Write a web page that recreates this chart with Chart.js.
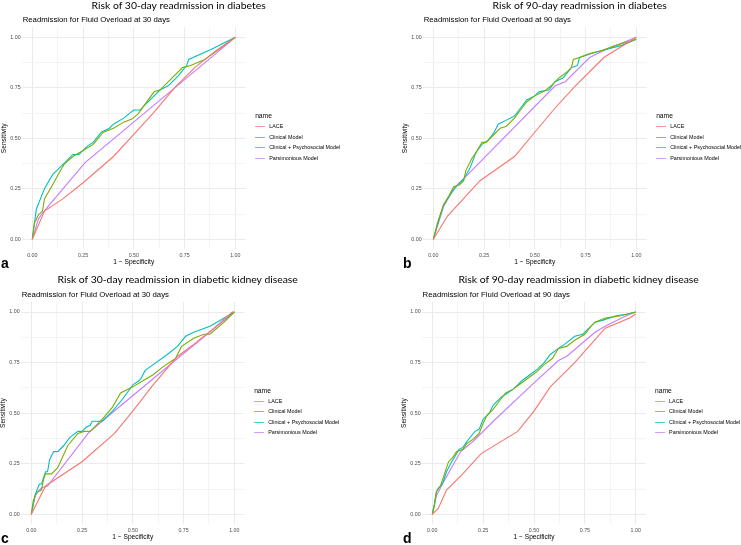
<!DOCTYPE html>
<html lang="en">
<head>
<meta charset="UTF-8">
<title>ROC curves for fluid overload readmission</title>
<script src="https://cdn.jsdelivr.net/npm/chart.js"></script>
<style>
  body { margin: 0; width: 741px; height: 545px; background: #fff; position: relative; overflow: hidden; font-family: "Liberation Sans", Arial, sans-serif; }
  .panel { position: absolute; }
  .panel canvas { position: absolute; left: 0; top: 0; }
  .title { position: absolute; font-family: Lato, "Open Sans", sans-serif; font-size: 10.4px; white-space: nowrap; transform: translate(-50%, -50%); color: #000; }
  .subtitle { position: absolute; font-size: 7.8px; white-space: nowrap; transform: translateY(-50%); color: #000; }
  .letter { position: absolute; font-size: 14px; font-weight: bold; line-height: 1; }
  .legend { position: absolute; font-size: 5.4px; color: #000; }
  .legend .head { font-size: 6.7px; height: 11px; line-height: 11px; }
  .legend .row { height: 10.5px; line-height: 10.5px; white-space: nowrap; }
  .legend .key { display: inline-block; width: 10px; height: 1px; vertical-align: middle; margin-right: 4px; opacity: 0.75; }
</style>
</head>
<body>
<script>
// series names and colours (ggplot default hue)
const seriesNames = ['LACE', 'Clinical Model', 'Clinical + Psychosocial Model', 'Parsimonious Model'];
const seriesColors = ['#F8766D', '#7CAE00', '#00BFC4', '#C77CFF'];
const tickValues = [0, 0.125, 0.25, 0.375, 0.5, 0.625, 0.75, 0.875, 1];

// panel a: 30-day readmission in diabetes  [1 - specificity, sensitivity]
const laceA = [[0,0],[0.06,0.14],[0.15,0.2],[0.25,0.28],[0.4,0.41],[0.5,0.52],[0.6,0.63],[0.7,0.75],[0.8,0.85],[0.9,0.93],[1,1]];
const clinA = [[0,0],[0.01,0.08],[0.03,0.12],[0.05,0.14],[0.06,0.2],[0.1,0.27],[0.15,0.36],[0.16,0.375],[0.2,0.41],[0.25,0.44],[0.3,0.47],[0.35,0.53],[0.4,0.55],[0.45,0.58],[0.49,0.595],[0.52,0.62],[0.6,0.73],[0.63,0.74],[0.68,0.79],[0.74,0.85],[0.78,0.86],[0.85,0.89],[1,1]];
const psyA = [[0,0],[0.02,0.15],[0.04,0.2],[0.06,0.25],[0.1,0.32],[0.12,0.34],[0.14,0.36],[0.16,0.38],[0.2,0.42],[0.23,0.42],[0.27,0.46],[0.3,0.48],[0.34,0.53],[0.38,0.55],[0.4,0.57],[0.45,0.6],[0.5,0.64],[0.53,0.64],[0.58,0.69],[0.63,0.74],[0.67,0.76],[0.72,0.81],[0.76,0.86],[0.77,0.89],[0.88,0.94],[1,1]];
const parsA = [[0,0],[0.03,0.1],[0.05,0.13],[0.26,0.38],[1,1]];

// panel b: 90-day readmission in diabetes
const laceB = [[0,0],[0.07,0.115],[0.23,0.29],[0.4,0.41],[0.5,0.53],[0.6,0.65],[0.7,0.76],[0.84,0.9],[1,1]];
const clinB = [[0,0],[0.02,0.08],[0.05,0.17],[0.08,0.22],[0.1,0.26],[0.13,0.27],[0.15,0.29],[0.16,0.34],[0.19,0.4],[0.21,0.43],[0.24,0.48],[0.26,0.48],[0.3,0.52],[0.33,0.55],[0.36,0.56],[0.4,0.6],[0.43,0.64],[0.46,0.68],[0.5,0.71],[0.55,0.735],[0.58,0.76],[0.62,0.8],[0.66,0.83],[0.68,0.85],[0.69,0.89],[0.72,0.9],[0.77,0.92],[0.83,0.935],[0.9,0.96],[1,0.99]];
const psyB = [[0,0],[0.02,0.07],[0.05,0.17],[0.09,0.23],[0.12,0.27],[0.15,0.3],[0.18,0.35],[0.21,0.43],[0.24,0.47],[0.27,0.49],[0.3,0.53],[0.32,0.57],[0.36,0.59],[0.4,0.61],[0.43,0.65],[0.46,0.69],[0.5,0.71],[0.52,0.73],[0.57,0.74],[0.6,0.78],[0.64,0.8],[0.68,0.85],[0.71,0.86],[0.72,0.9],[0.78,0.92],[0.85,0.94],[0.93,0.96],[1,0.99]];
const parsB = [[0,0],[0.05,0.16],[0.1,0.25],[0.15,0.3],[0.6,0.76],[0.65,0.78],[0.77,0.9],[0.85,0.94],[1,1]];

// panel c: 30-day readmission in diabetic kidney disease
const laceC = [[0,0],[0.07,0.14],[0.25,0.26],[0.41,0.4],[0.5,0.51],[0.6,0.64],[0.72,0.78],[0.8,0.84],[0.9,0.92],[0.99,1],[1,1]];
const clinC = [[0,0],[0.01,0.07],[0.03,0.11],[0.05,0.12],[0.06,0.17],[0.07,0.2],[0.1,0.2],[0.13,0.23],[0.18,0.34],[0.23,0.4],[0.26,0.41],[0.29,0.41],[0.35,0.47],[0.4,0.53],[0.44,0.6],[0.5,0.63],[0.55,0.66],[0.6,0.69],[0.65,0.73],[0.71,0.77],[0.74,0.83],[0.8,0.87],[0.85,0.89],[0.88,0.89],[0.95,0.95],[1,1]];
const psyC = [[0,0],[0.02,0.1],[0.04,0.15],[0.05,0.15],[0.07,0.21],[0.08,0.21],[0.09,0.27],[0.11,0.31],[0.13,0.31],[0.16,0.34],[0.19,0.38],[0.23,0.41],[0.25,0.41],[0.27,0.43],[0.29,0.44],[0.3,0.46],[0.35,0.46],[0.4,0.51],[0.45,0.57],[0.5,0.64],[0.53,0.66],[0.54,0.67],[0.56,0.71],[0.6,0.74],[0.67,0.79],[0.72,0.83],[0.76,0.88],[0.8,0.9],[0.88,0.93],[0.95,0.97],[1,1]];
const parsC = [[0,0],[0.02,0.1],[0.05,0.13],[0.08,0.14],[0.28,0.4],[0.36,0.47],[0.72,0.77],[1,1]];

// panel d: 90-day readmission in diabetic kidney disease
const laceD = [[0,0],[0.03,0.03],[0.07,0.12],[0.15,0.2],[0.24,0.3],[0.42,0.41],[0.5,0.51],[0.58,0.63],[0.7,0.75],[0.85,0.92],[0.97,0.97],[1,0.99]];
const clinD = [[0,0],[0.01,0.05],[0.02,0.11],[0.04,0.14],[0.06,0.2],[0.08,0.26],[0.1,0.28],[0.12,0.31],[0.15,0.32],[0.17,0.35],[0.2,0.37],[0.23,0.4],[0.25,0.45],[0.27,0.49],[0.3,0.52],[0.33,0.56],[0.36,0.6],[0.4,0.62],[0.44,0.65],[0.48,0.68],[0.52,0.71],[0.55,0.74],[0.59,0.77],[0.62,0.82],[0.66,0.83],[0.7,0.86],[0.75,0.89],[0.78,0.93],[0.8,0.95],[0.85,0.97],[0.92,0.98],[1,1]];
const psyD = [[0,0],[0.01,0.04],[0.02,0.11],[0.03,0.13],[0.05,0.15],[0.07,0.21],[0.09,0.25],[0.12,0.3],[0.13,0.32],[0.15,0.33],[0.17,0.36],[0.21,0.41],[0.23,0.42],[0.25,0.47],[0.28,0.5],[0.3,0.54],[0.34,0.58],[0.37,0.6],[0.4,0.62],[0.44,0.66],[0.48,0.69],[0.52,0.72],[0.55,0.75],[0.58,0.79],[0.62,0.82],[0.65,0.84],[0.7,0.88],[0.74,0.89],[0.77,0.92],[0.8,0.95],[0.84,0.96],[0.9,0.98],[0.96,0.99],[1,1]];
const parsD = [[0,0],[0.02,0.09],[0.05,0.15],[0.1,0.24],[0.14,0.31],[0.2,0.36],[0.3,0.46],[0.5,0.65],[0.62,0.76],[0.66,0.78],[0.8,0.9],[0.85,0.93],[0.95,0.98],[1,1]];

const panels = [
  { letter: 'a', title: 'Risk of 30-day readmission in diabetes', subtitle: 'Readmission for Fluid Overload at 30 days',
    x: 0, y: 0, w: 370, h: 272, area: [22.15, 27.2, 245.45, 249.4], series: [laceA, clinA, psyA, parsA] },
  { letter: 'b', title: 'Risk of 90-day readmission in diabetes', subtitle: 'Readmission for Fluid Overload at 90 days',
    x: 370, y: 0, w: 371, h: 272, area: [53.15, 27.2, 276.45, 249.4], series: [laceB, clinB, psyB, parsB] },
  { letter: 'c', title: 'Risk of 30-day readmission in diabetic kidney disease', subtitle: 'Readmission for Fluid Overload at 30 days',
    x: 0, y: 272, w: 370, h: 273, area: [21.15, 29.9, 244.45, 252.4], series: [laceC, clinC, psyC, parsC] },
  { letter: 'd', title: 'Risk of 90-day readmission in diabetic kidney disease', subtitle: 'Readmission for Fluid Overload at 90 days',
    x: 370, y: 272, w: 371, h: 273, area: [52.1, 29.9, 275.9, 252.4], series: [laceD, clinD, psyD, parsD] }
];

const Y_AXIS_W = 22, X_AXIS_H = 17;

function gridColor(ctx) {
  const v = ctx.tick ? ctx.tick.value : 0;
  return Math.abs(v / 0.25 - Math.round(v / 0.25)) < 1e-6 ? '#ebebeb' : '#f4f4f4';
}

function axisOptions(title, isY) {
  return {
    type: 'linear', min: -0.05, max: 1.05,
    afterBuildTicks: s => { s.ticks = tickValues.map(v => ({ value: v })); },
    afterFit: s => { if (isY) s.width = Y_AXIS_W; else s.height = X_AXIS_H; },
    grid: { color: gridColor, lineWidth: 1, drawTicks: false },
    border: { display: false },
    ticks: {
      autoSkip: false, maxRotation: 0, padding: isY ? 1.5 : 3,
      color: '#4d4d4d', font: { family: 'Liberation Sans', size: 5.3 },
      callback: v => (Math.abs(v / 0.25 - Math.round(v / 0.25)) < 1e-6 ? v.toFixed(2) : '')
    },
    title: { display: true, text: title, color: '#000', padding: 0, font: { family: 'Liberation Sans', size: 6.6 } }
  };
}

panels.forEach(p => {
  const div = document.createElement('div');
  div.className = 'panel';
  Object.assign(div.style, { left: p.x + 'px', top: p.y + 'px', width: p.w + 'px', height: p.h + 'px' });
  const [l, t, r, b] = p.area;
  div.innerHTML =
    `<canvas width="${p.w}" height="${p.h}"></canvas>` +
    `<div class="title" style="left:${l + 156.5}px;top:${t - 22.5}px">${p.title}</div>` +
    `<div class="subtitle" style="left:${l + 0.5}px;top:${t - 8}px">${p.subtitle}</div>` +
    `<div class="letter" style="left:1px;top:${b + 7}px">${p.letter}</div>` +
    `<div class="legend" style="left:${l + 233}px;top:${t + 83}px"><div class="head">name</div>` +
    seriesNames.map((n, i) => `<div class="row"><span class="key" style="background:${seriesColors[i]}"></span>${n}</div>`).join('') +
    `</div>`;
  if (p.letter === 'b' || p.letter === 'd') div.querySelector('.letter').style.left = '33px';
  document.body.appendChild(div);

  const canvas = div.querySelector('canvas');
  canvas.style.width = p.w + 'px';
  canvas.style.height = p.h + 'px';
  new Chart(canvas.getContext('2d'), {
    type: 'line',
    data: {
      datasets: p.series.map((s, i) => ({
        label: seriesNames[i],
        data: s.map(pt => ({ x: pt[0], y: pt[1] })),
        borderColor: seriesColors[i],
        borderWidth: 1.1,
        pointRadius: 0,
        tension: 0,
        fill: false
      }))
    },
    options: {
      responsive: false,
      animation: false,
      layout: { padding: { left: l - Y_AXIS_W, top: t, right: p.w - r, bottom: p.h - b - X_AXIS_H } },
      plugins: { legend: { display: false }, tooltip: { enabled: false } },
      scales: {
        x: axisOptions('1 \u2212 Specificity', false),
        y: axisOptions('Sensitivity', true)
      }
    }
  });
});
</script>
</body>
</html>
